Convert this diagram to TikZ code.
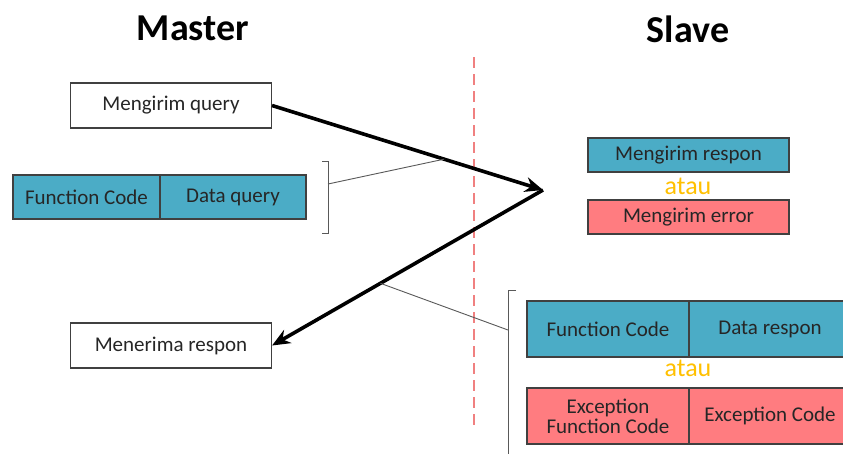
\documentclass[tikz,border=0pt]{standalone}
\usepackage{fontspec}
\setmainfont{Carlito}
\usetikzlibrary{calc,arrows.meta}
\definecolor{tealbox}{HTML}{4BACC6}
\definecolor{salmonbox}{HTML}{FF7C80}
\definecolor{ataucol}{HTML}{FFC000}
\definecolor{divider}{HTML}{F08080}
\definecolor{edge}{HTML}{404040}
\tikzset{
  box/.style={draw=edge, line width=1.1pt, inner sep=0pt, align=center,
    font=\fontsize{21}{23}\selectfont, text=black!85},
  whitebox/.style={box, fill=white, minimum width=201pt, minimum height=45pt},
  cell/.style={box, minimum height=44pt},
  title/.style={font=\fontsize{38}{42}\selectfont\bfseries},
  ortext/.style={text=ataucol, font=\fontsize{26}{28}\selectfont},
  flow/.style={line width=3.6pt, -{Stealth[length=18pt,width=15pt]}},
  thin/.style={draw=black!65, line width=0.9pt},
}
\begin{document}
\begin{tikzpicture}[x=1pt,y=-1pt]
\useasboundingbox (0,0) rectangle (843,453);
\fill[white] (0,0) rectangle (843,453);

% column titles
\node[title] (master) at (193,28) {Master};
\node[title] (slave) at (688,29) {Slave};

% divider between master and slave
\coordinate (dtop) at (474,57);
\coordinate (dbot) at (474,430);
\draw[divider, line width=1.3pt, dash pattern=on 11pt off 6pt] (dtop) -- (dbot);

% master side
\node[whitebox] (query) at (171,105.5) {Mengirim query};
\node[cell, fill=tealbox, minimum width=147pt] (fc1) at (86.5,197) {Function Code};
\node[cell, fill=tealbox, minimum width=146pt] (dq) at (233,197) {Data query};
\node[whitebox] (recv) at (171,345.5) {Menerima respon};

% slave side
\node[box, fill=tealbox, minimum width=201pt, minimum height=34pt] (resp) at (688.5,155) {Mengirim respon};
\node[ortext] (or1) at (688,186) {atau};
\node[box, fill=salmonbox, minimum width=201pt, minimum height=34pt] (err) at (688.5,217) {Mengirim error};

\node[cell, fill=tealbox, minimum width=162pt, minimum height=56pt] (fc2) at (608,329) {Function Code};
\node[cell, fill=tealbox, minimum width=162pt, minimum height=56pt] (dr) at (770,329) {Data respon};
\node[ortext] (or2) at (688,368) {atau};
\node[cell, fill=salmonbox, minimum width=162pt, minimum height=56pt] (efc) at (608,416) {Exception\\[-3pt]Function Code};
\node[cell, fill=salmonbox, minimum width=162pt, minimum height=56pt] (ec) at (770,416) {Exception Code};

% message flow
\coordinate (turn) at (543,190);
\draw[flow] (query.east) -- (turn);
\draw[flow] (turn) -- (recv.east);

% bracket around the query frame
\coordinate (lb1) at (322,161);
\coordinate (lb2) at (328,161);
\coordinate (lb3) at (328,233);
\coordinate (lb4) at (322,233);
\coordinate (lbmid) at (328,184);
\draw[thin] (lb1) -- (lb2) -- (lb3) -- (lb4);
\coordinate (qlink) at ($(query.east)!0.635!(turn)$);
\draw[thin] (lbmid) -- (qlink);

% bracket around the response frames
\coordinate (rb1) at (516,290);
\coordinate (rb2) at (508,290);
\coordinate (rb3) at (508,460);
\coordinate (rbmid) at (508,330);
\draw[thin] (rb1) -- (rb2) -- (rb3);
\coordinate (rlink) at ($(turn)!0.6!(recv.east)$);
\draw[thin] (rlink) -- (rbmid);
\end{tikzpicture}
\end{document}
